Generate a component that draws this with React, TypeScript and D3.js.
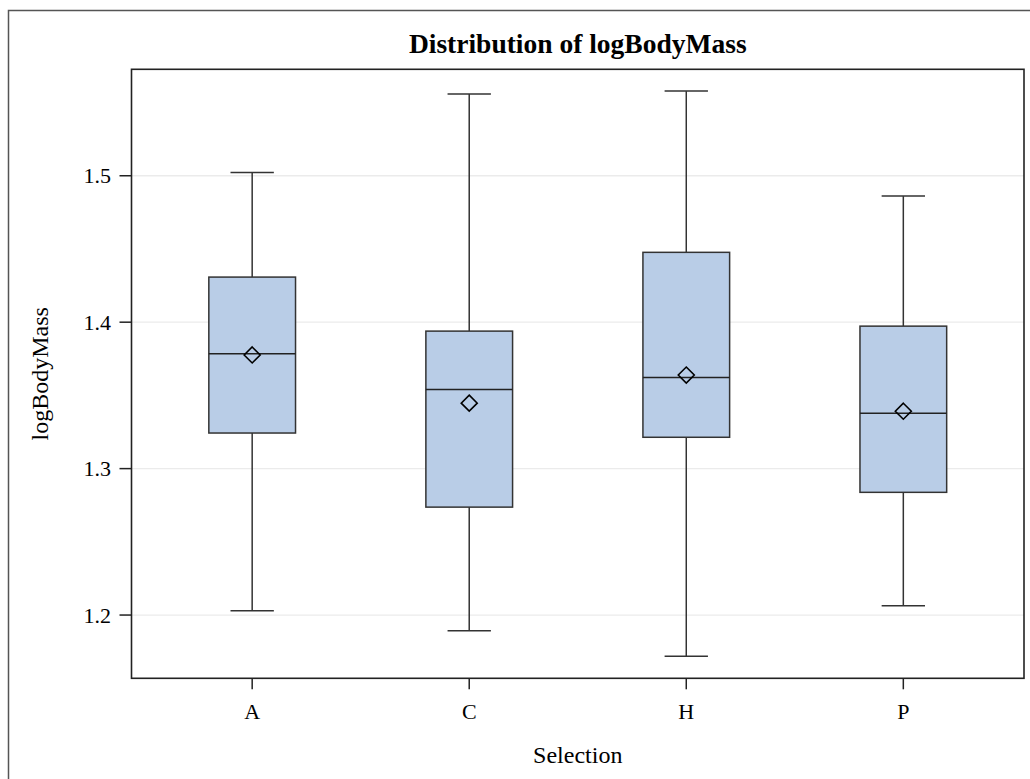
import React from 'react';
import * as d3 from 'd3';

const categories = ['A', 'C', 'H', 'P'];
const whiskerHigh = [1.5023, 1.5558, 1.5578, 1.4861];
const q3 = [1.4308, 1.3939, 1.4477, 1.3973];
const median = [1.3784, 1.3541, 1.3623, 1.3378];
const mean = [1.3776, 1.3447, 1.3639, 1.3392];
const q1 = [1.3243, 1.2737, 1.3214, 1.2838];
const whiskerLow = [1.2029, 1.1892, 1.1718, 1.2063];
const yTicks = [1.2, 1.3, 1.4, 1.5];

const W = 1030;
const H = 779;
const plot = { left: 131.5, right: 1024, top: 69.3, bottom: 678.3 };
const FONT = "'Liberation Serif', 'Times New Roman', serif";

export default function App() {
  const x = d3
    .scalePoint<string>()
    .domain(categories)
    .range([plot.left, plot.right])
    .padding(0.556);
  const y = d3.scaleLinear().domain([1.1568, 1.5727]).range([plot.bottom, plot.top]);
  const boxW = 86.7;
  const capW = boxW / 2;
  const d = 8;
  const cx = (plot.left + plot.right) / 2;

  return (
    <svg
      width={W}
      height={H}
      style={{ position: 'absolute', left: 0, top: 0, background: '#fff' }}
      fontFamily={FONT}
    >
      <rect x={8.5} y={10.5} width={1040} height={800} fill="#fff" stroke="#555" strokeWidth={1.5} />
      <text x={cx} y={53} textAnchor="middle" fontSize={27.5} fontWeight="bold" fill="#000">
        Distribution of logBodyMass
      </text>
      {yTicks.map((t) => (
        <line key={'g' + t} x1={plot.left} x2={plot.right} y1={y(t)} y2={y(t)} stroke="#ebebeb" strokeWidth={1.3} />
      ))}
      {categories.map((c, i) => {
        const px = x(c)!;
        return (
          <g key={c}>
            <line x1={px} x2={px} y1={y(whiskerHigh[i])} y2={y(q3[i])} stroke="#333" strokeWidth={1.5} />
            <line x1={px} x2={px} y1={y(q1[i])} y2={y(whiskerLow[i])} stroke="#333" strokeWidth={1.5} />
            <line x1={px - capW / 2} x2={px + capW / 2} y1={y(whiskerHigh[i])} y2={y(whiskerHigh[i])} stroke="#333" strokeWidth={1.5} />
            <line x1={px - capW / 2} x2={px + capW / 2} y1={y(whiskerLow[i])} y2={y(whiskerLow[i])} stroke="#333" strokeWidth={1.5} />
            <rect
              x={px - boxW / 2}
              y={y(q3[i])}
              width={boxW}
              height={y(q1[i]) - y(q3[i])}
              fill="#b9cde7"
              stroke="#333"
              strokeWidth={1.5}
            />
            <line x1={px - boxW / 2} x2={px + boxW / 2} y1={y(median[i])} y2={y(median[i])} stroke="#222" strokeWidth={1.5} />
            <path
              d={`M${px},${y(mean[i]) - d}L${px + d},${y(mean[i])}L${px},${y(mean[i]) + d}L${px - d},${y(mean[i])}Z`}
              fill="none"
              stroke="#000"
              strokeWidth={1.6}
            />
          </g>
        );
      })}
      <rect
        x={plot.left}
        y={plot.top}
        width={plot.right - plot.left}
        height={plot.bottom - plot.top}
        fill="none"
        stroke="#222"
        strokeWidth={1.6}
      />
      {yTicks.map((t) => (
        <g key={'y' + t}>
          <line x1={plot.left - 12} x2={plot.left} y1={y(t)} y2={y(t)} stroke="#222" strokeWidth={1.5} />
          <text x={111} y={y(t)} dy="0.35em" textAnchor="end" fontSize={22} fill="#000">
            {d3.format('.1f')(t)}
          </text>
        </g>
      ))}
      {categories.map((c) => (
        <g key={'x' + c}>
          <line x1={x(c)!} x2={x(c)!} y1={plot.bottom} y2={plot.bottom + 11} stroke="#222" strokeWidth={1.5} />
          <text x={x(c)!} y={719} textAnchor="middle" fontSize={22} fill="#000">
            {c}
          </text>
        </g>
      ))}
      <text x={cx} y={762.5} textAnchor="middle" fontSize={24} fill="#000">
        Selection
      </text>
      <text
        transform={`translate(48,${(plot.top + plot.bottom) / 2}) rotate(-90)`}
        textAnchor="middle"
        fontSize={24}
        fill="#000"
      >
        logBodyMass
      </text>
    </svg>
  );
}
